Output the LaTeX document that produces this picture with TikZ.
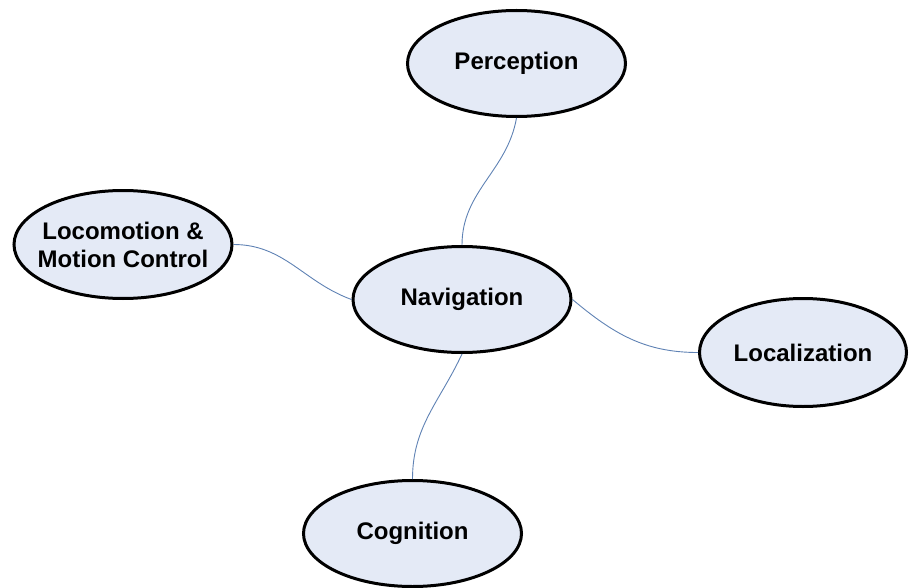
\documentclass[tikz,border=0pt]{standalone}
\usepackage{fontspec}
\setmainfont{Liberation Sans}
\usetikzlibrary{shapes.geometric}

\definecolor{nodefill}{RGB}{228,234,246}
\definecolor{linkblue}{RGB}{95,130,180}

\begin{document}
\begin{tikzpicture}[x=1pt,y=1pt,
  main node/.style={ellipse,draw=black,line width=3pt,fill=nodefill,inner sep=0pt,
    minimum width=218pt,minimum height=106pt,align=center,
    font=\fontsize{24}{28}\selectfont\bfseries},
  link/.style={draw=linkblue,line width=0.9pt}]

 \useasboundingbox (0,0) rectangle (909,-588);

 \node[main node] (nav) at (462,-299.5) {Navigation};
 \node[main node] (per) at (516.5,-63.5) {Perception};
 \node[main node,inner xsep=-8.5pt,minimum height=108pt] (loco) at (123,-244.5) {Locomotion \&\\Motion Control};
 \node[main node,minimum width=207pt,minimum height=108pt] (loc) at (803,-352.5) {Localization};
 \node[main node] (cog) at (412.5,-533.5) {Cognition};

 \path[link]
    (per.south)	edge [out=-100,in=90] (nav.north)
    (loco.east)	edge [out=0,in=160] (nav.west)
    (nav.east)	edge [out=-40,in=180] (loc.west)
    (nav.south)	edge [out=-115,in=90] (cog.north);

\end{tikzpicture}
\end{document}
